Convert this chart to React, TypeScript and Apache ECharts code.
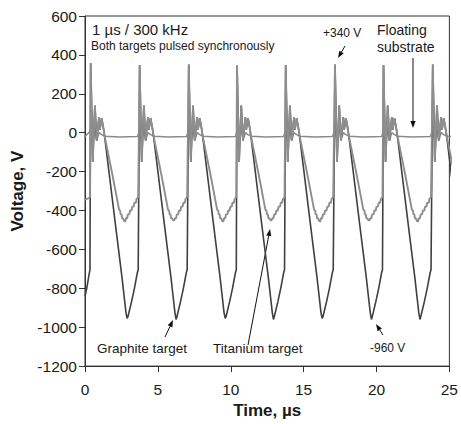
import React, { useEffect, useRef } from "react";
import * as echarts from "echarts";

// ---- data ----
// times of the positive reversal spikes (µs) and their heights (V)
const peakTimes = [0.39, 3.75, 7.12, 10.43, 13.77, 17.15, 20.48, 23.86];
const peakVolts = [358, 348, 350, 345, 348, 350, 348, 350];
// per-period minima (V)
const graphiteMin = [-955, -960, -955, -960, -955, -960, -960, -955];
const titaniumMin = [-455, -450, -455, -450, -455, -450, -455, -450];

// ringing after each spike, common to both targets (offset µs from spike, V)
const ringOffsets = [0.14, 0.29, 0.41, 0.57, 0.63, 0.75, 0.86, 0.95];
const ringVolts = [-150, 140, -40, 80, 15, 75, 30, -15];

// graphite target: fall to the minimum, then rise until the next spike (null = period minimum)
const graphiteTailOffsets = [1.72, 2.15, 2.42, 2.5, 2.56, 2.8, 3.0, 3.2, 3.26];
const graphiteTailVolts = [-485, -745, -925, null, -945, -870, -800, -720, -705];

// titanium target: fall to about -400 V, stepped bottom, stepped rise (null = period minimum)
const titaniumTailOffsets = [1.5, 1.95, 2.02, 2.05, 2.12, 2.15, 2.22, 2.3, 2.38, 2.42, 2.5, 2.55, 2.65, 2.7, 2.8, 2.85, 2.95, 3.0, 3.1, 3.15, 3.22, 3.26];
const titaniumTailVolts = [-220, -397, -400, -420, -420, -440, -440, null, null, -440, -440, -420, -420, -400, -400, -380, -380, -360, -360, -340, -335, -330];

// before the first spike
const leadTimes = [0, 0.12, 0.3, 0.34];
const graphiteLeadVolts = [-840, -800, -720, -705];
const titaniumLeadVolts = [-345, -340, -335, -330];

// floating substrate: small ringing, then about -20 V
const substrateOffsets = [0, 0.14, 0.29, 0.41, 0.57, 0.75, 0.95, 2.0, 3.2];
const substrateVolts = [10, -45, 20, -40, 0, -10, -18, -22, -20];
const substrateStart = -20;

const xTicks = { min: 0, max: 25, interval: 5 };
const yTicks = { min: -1200, max: 600, interval: 200 };

const FONT = "Liberation Sans, Arial, Helvetica, sans-serif";

function buildTarget(leadVolts: number[], tailOffsets: number[], tailVolts: (number | null)[], mins: number[]) {
  const pts: number[][] = [];
  leadTimes.forEach((t, i) => pts.push([t, leadVolts[i]]));
  peakTimes.forEach((tp, k) => {
    pts.push([tp, peakVolts[k]]);
    ringOffsets.forEach((o, i) => pts.push([tp + o, ringVolts[i]]));
    tailOffsets.forEach((o, i) => {
      const v = tailVolts[i];
      pts.push([tp + o, v === null ? mins[k] : v]);
    });
  });
  return pts;
}

function buildSubstrate() {
  const pts: number[][] = [[0, substrateStart]];
  peakTimes.forEach((tp) => {
    substrateOffsets.forEach((o, i) => pts.push([tp + o, substrateVolts[i]]));
  });
  return pts;
}

function arrow(x1: number, y1: number, x2: number, y2: number) {
  const head = 7;
  const w = 2.6;
  const a = Math.atan2(y2 - y1, x2 - x1);
  const hx = x2 - head * Math.cos(a);
  const hy = y2 - head * Math.sin(a);
  return {
    type: "group",
    children: [
      { type: "line", shape: { x1, y1, x2: hx, y2: hy }, style: { stroke: "#111", lineWidth: 1 } },
      {
        type: "polygon",
        shape: {
          points: [
            [x2, y2],
            [hx + w * Math.sin(a), hy - w * Math.cos(a)],
            [hx - w * Math.sin(a), hy + w * Math.cos(a)],
          ],
        },
        style: { fill: "#111" },
      },
    ],
  };
}

function label(text: string, x: number, y: number, size: number) {
  return {
    type: "text",
    x,
    y,
    style: { text, fontSize: size, fontFamily: FONT, fill: "#1a1a1a", verticalAlign: "middle" },
  };
}

export default function App() {
  const ref = useRef<HTMLDivElement>(null);
  useEffect(() => {
    if (!ref.current) return;
    const chart = echarts.init(ref.current, undefined, { renderer: "svg" });
    const axisCommon = {
      axisLine: { show: true, onZero: false, lineStyle: { color: "#333", width: 1 } },
      axisTick: { show: true, length: 6, lineStyle: { color: "#333" } },
      splitLine: { show: false },
    };
    chart.setOption({
      animation: false,
      backgroundColor: "#fff",
      grid: { left: 85, top: 16, width: 368, height: 351, show: true, borderColor: "#333", borderWidth: 1 },
      xAxis: {
        type: "value",
        ...xTicks,
        ...axisCommon,
        axisLabel: { fontSize: 15.5, color: "#1a1a1a", margin: 15, fontFamily: FONT, formatter: (v: number) => String(v) },
        name: "Time, µs",
        nameLocation: "middle",
        nameGap: 34,
        nameTextStyle: { fontSize: 17, fontWeight: "bold", color: "#1a1a1a", fontFamily: FONT },
      },
      yAxis: {
        type: "value",
        ...yTicks,
        ...axisCommon,
        axisLabel: { fontSize: 15.5, color: "#1a1a1a", margin: 8, fontFamily: FONT, formatter: (v: number) => String(v) },
        name: "Voltage, V",
        nameLocation: "middle",
        nameGap: 58,
        nameRotate: 90,
        nameTextStyle: { fontSize: 17, fontWeight: "bold", color: "#1a1a1a", fontFamily: FONT },
      },
      series: [
        {
          name: "Floating substrate",
          type: "line",
          data: buildSubstrate(),
          showSymbol: false,
          symbol: "none",
          clip: true,
          lineStyle: { color: "#8a8a8a", width: 1.5 },
          z: 1,
        },
        {
          name: "Graphite target",
          type: "line",
          data: buildTarget(graphiteLeadVolts, graphiteTailOffsets, graphiteTailVolts, graphiteMin),
          showSymbol: false,
          symbol: "none",
          clip: true,
          lineStyle: { color: "#404040", width: 1.6 },
          z: 2,
        },
        {
          name: "Titanium target",
          type: "line",
          data: buildTarget(titaniumLeadVolts, titaniumTailOffsets, titaniumTailVolts, titaniumMin),
          showSymbol: false,
          symbol: "none",
          clip: true,
          lineStyle: { color: "#8e8e8e", width: 1.9 },
          z: 3,
        },
      ],
      graphic: [
        label("1 µs / 300 kHz", 92, 29, 15),
        label("Both targets pulsed synchronously", 91, 46, 12),
        label("+340 V", 323, 33, 12),
        label("Floating", 377, 30, 14),
        label("substrate", 377, 47, 14),
        label("Graphite target", 97, 348, 13.5),
        label("Titanium target", 213, 348, 13.5),
        label("-960 V", 370, 348, 12),
        arrow(345, 46, 338, 58),
        arrow(413, 58, 413, 128),
        arrow(165, 337, 173, 320),
        arrow(248, 345, 270, 229),
        arrow(383, 335, 376, 324),
      ],
    });
    return () => chart.dispose();
  }, []);
  return <div ref={ref} style={{ position: "fixed", left: 0, top: 0, width: 461, height: 424, background: "#fff" }} />;
}
